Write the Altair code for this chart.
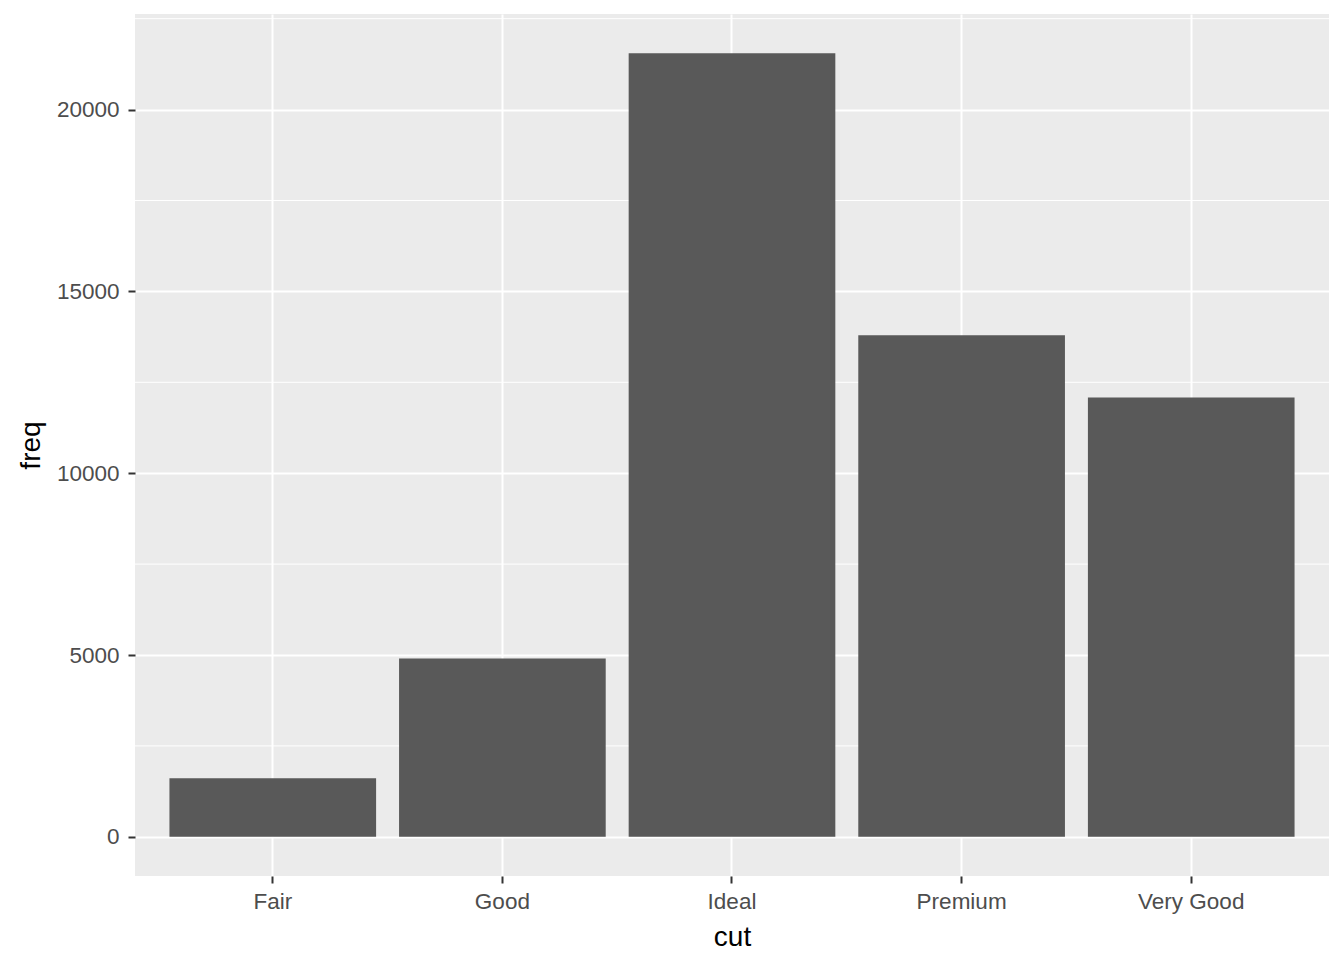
import pandas as pd
import altair as alt

# counts of diamonds per cut
cut = ["Fair", "Good", "Ideal", "Premium", "Very Good"]
freq = [1610, 4906, 21551, 13791, 12082]

major_breaks = [0, 5000, 10000, 15000, 20000]
minor_breaks = [2500, 7500, 12500, 17500, 22500]

df = pd.DataFrame({"cut": cut, "freq": freq})
minor = pd.DataFrame({"freq": minor_breaks})

# ggplot-like expansion: 5% of the range on each side
pad = 0.05 * max(freq)
ydom = [-pad, max(freq) + pad]
yscale = alt.Scale(domain=ydom, nice=False, zero=False)

font = "Liberation Sans"

yaxis = alt.Axis(title="freq", values=major_breaks, format="d",
                 grid=True, gridColor="white", gridWidth=2,
                 domain=False, tickColor="#333333", tickWidth=2, tickSize=7,
                 labelPadding=9, labelColor="#4D4D4D", labelFont=font,
                 labelFontSize=22.5, titleFont=font, titleFontSize=28,
                 titleFontWeight="normal", titleColor="black",
                 titleBaseline="alphabetic", titleX=-96)

# minor grid lines sit under the bars
minor_grid = alt.Chart(minor).mark_rule(color="white", strokeWidth=1).encode(
    y=alt.Y("freq:Q", scale=yscale, axis=yaxis)
)

bars = alt.Chart(df).mark_bar(color="#595959").encode(
    x=alt.X("cut:N", sort=cut,
            scale=alt.Scale(paddingInner=0.1, paddingOuter=0.15),
            axis=alt.Axis(title="cut", labelAngle=0, bandPosition=0.5,
                          grid=True, gridColor="white", gridWidth=2,
                          domain=False, tickColor="#333333", tickWidth=2, tickSize=7,
                          labelPadding=7, labelColor="#4D4D4D", labelFont=font,
                          labelFontSize=22.5, titleFont=font, titleFontSize=28,
                          titleFontWeight="normal", titleColor="black",
                          titleBaseline="alphabetic", titleY=69)),
    y=alt.Y("freq:Q", scale=yscale, axis=yaxis),
    y2=alt.datum(0),
)

chart = (minor_grid + bars).properties(
    width=1194, height=862,
    autosize=alt.AutoSizeParams(type="none"),
    padding={"left": 127, "top": 6, "right": 7, "bottom": 76},
).configure_view(fill="#EBEBEB", stroke=None)

chart.save("out.html", embed_options={"renderer": "svg", "actions": False})
